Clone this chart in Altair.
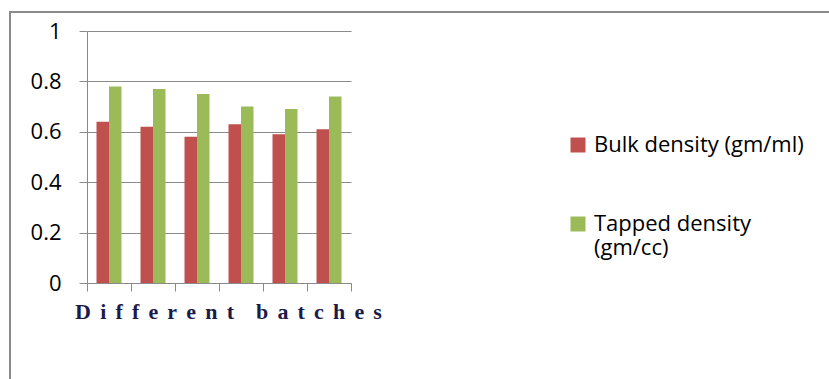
import altair as alt
import pandas as pd

# Batch identifiers (not labelled on the axis) and the two measured series
batches = ["B1", "B2", "B3", "B4", "B5", "B6"]
bulk_density = [0.64, 0.62, 0.58, 0.63, 0.59, 0.61]
tapped_density = [0.78, 0.77, 0.75, 0.70, 0.69, 0.74]
series_names = ["Bulk density (gm/ml)", "Tapped density (gm/cc)"]
series_colors = ["#C0504D", "#9BBB59"]
y_ticks = [0, 0.2, 0.4, 0.6, 0.8, 1]

rows = []
for b, v1, v2 in zip(batches, bulk_density, tapped_density):
    rows.append({"batch": b, "series": series_names[0], "value": v1})
    rows.append({"batch": b, "series": series_names[1], "value": v2})
df = pd.DataFrame(rows)

GRAY = "#8a8a8a"
# Letter-spaced axis title
sp = "\u2004\u200a"
title_text = sp.join("Different") + "\u2003" + sp.join("batches")

bars = alt.Chart(df).mark_bar().encode(
    x=alt.X(
        "batch:N",
        sort=batches,
        scale=alt.Scale(paddingInner=0, paddingOuter=0),
        axis=alt.Axis(
            labels=False,
            grid=False,
            tickBand="extent",
            tickSize=8,
            tickColor=GRAY,
            domainColor=GRAY,
            title=title_text,
            titleFont="Liberation Serif",
            titleFontSize=22,
            titleFontWeight="bold",
            titleColor="#1b1b4b",
            titleAlign="center",
            titleBaseline="alphabetic",
            titleX=141,
            titleY=35,
        ),
    ),
    xOffset=alt.XOffset(
        "series:N",
        sort=series_names,
        scale=alt.Scale(paddingInner=0, paddingOuter=0.76),
    ),
    y=alt.Y(
        "value:Q",
        scale=alt.Scale(domain=[0, 1], nice=False),
        axis=alt.Axis(
            values=y_ticks,
            format="~g",
            title=None,
            grid=True,
            gridColor=GRAY,
            tickColor=GRAY,
            tickSize=8,
            domainColor=GRAY,
            labelFont="Open Sans",
            labelFontSize=22,
            labelColor="#000000",
            labelPadding=18,
        ),
    ),
    color=alt.Color(
        "series:N",
        sort=series_names,
        scale=alt.Scale(domain=series_names, range=series_colors),
        legend=alt.Legend(
            title=None,
            orient="none",
            legendX=480,
            legendY=103,
            padding=0,
            symbolType="square",
            symbolSize=225,
            symbolStrokeWidth=0,
            labelFont="Open Sans",
            labelFontSize=22,
            labelColor="#000000",
            labelOffset=5,
            labelLimit=400,
            rowPadding=57,
            labelExpr="datum.label == 'Tapped density (gm/cc)' ? ['Tapped density', '(gm/cc)'] : datum.label",
        ),
    ),
)

# Outer frame around the whole figure
frame = alt.Chart(pd.DataFrame({"k": [0]})).mark_rect(
    filled=False, stroke=GRAY, strokeWidth=2
).encode(
    x=alt.value(-77), x2=alt.value(820), y=alt.value(-19), y2=alt.value(420)
)

chart = alt.layer(frame, bars).properties(
    width=264,
    height=252,
    autosize=alt.AutoSizeParams(type="none"),
    padding={"left": 87, "top": 31, "right": 478, "bottom": 96},
    background="#ffffff",
).configure_view(stroke=None)

chart.save("out.html", embed_options={"renderer": "svg", "actions": False})
